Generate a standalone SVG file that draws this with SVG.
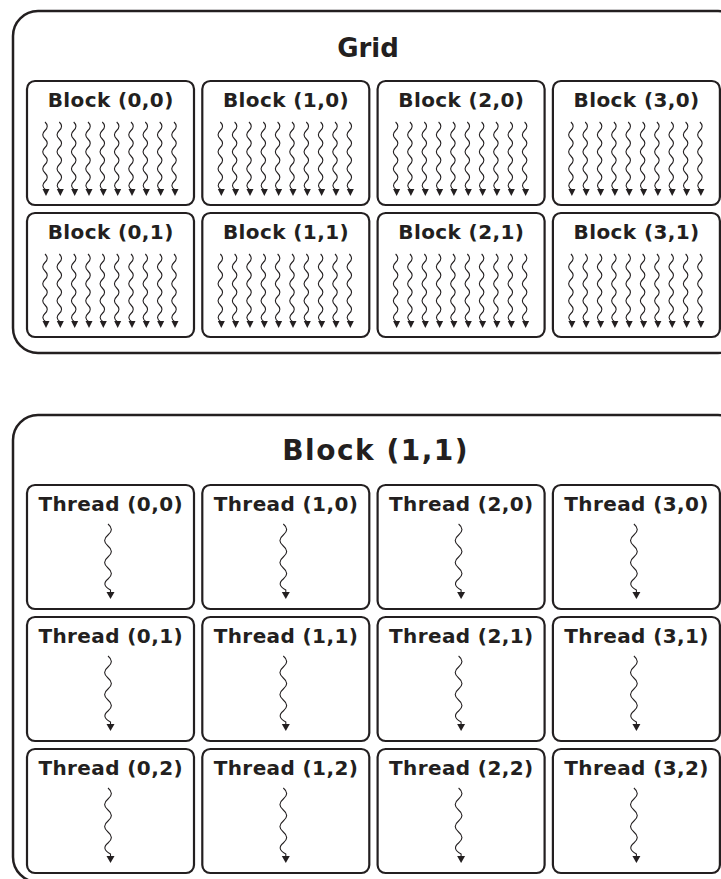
<svg xmlns="http://www.w3.org/2000/svg" xmlns:xlink="http://www.w3.org/1999/xlink" width="721" height="879" viewBox="0 0 721 879">
  <style>
    .outer { fill: #ffffff; stroke: #231f20; stroke-width: 2.5; }
    .box { fill: #ffffff; stroke: #231f20; stroke-width: 2.2; }
    .title { font-family: "DejaVu Sans", Verdana, sans-serif; font-weight: bold; fill: #231f20; text-anchor: middle; }
    .label { font-family: "DejaVu Sans", Verdana, sans-serif; font-weight: bold; font-size: 20px; letter-spacing: 0.4px; fill: #231f20; text-anchor: middle; }
    .wave { fill: none; stroke: #231f20; stroke-width: 1.1; }
    .head { fill: #231f20; }
  </style>
  <defs>
    <!-- small warp thread: wavy line with arrowhead, origin at box top / centre -->
    <g id="warpThread">
      <path class="wave" d="M-1 41 c3 2.8 3 5.7 0 8.5 s-3 5.7 0 8.5 s3 5.7 0 8.5 s-3 5.7 0 8.5 s3 5.7 0 8.5 s-3 5.7 0 8.5 s3 5.7 0 8.5 s-3 5.7 1 8.5 L0 110"/>
      <polygon class="head" points="-3.5,108 3.5,108 0,115"/>
    </g>
    <!-- single thread: larger wavy line with arrowhead -->
    <g id="singleThread">
      <path class="wave" d="M-2.5 39 c4.5 3.7 4.5 7.3 0 11 s-4.5 7.3 0 11 s4.5 7.3 0 11 s-4.5 7.3 0 11 s4.5 7.3 0 11 s-4.5 7.3 2.5 11 L0 108"/>
      <polygon class="head" points="-4,107 4,107 0,114"/>
    </g>
    <!-- one block: ten warp threads -->
    <g id="warp">
      <use xlink:href="#warpThread" x="-64.5"/>
      <use xlink:href="#warpThread" x="-50.2"/>
      <use xlink:href="#warpThread" x="-35.8"/>
      <use xlink:href="#warpThread" x="-21.5"/>
      <use xlink:href="#warpThread" x="-7.2"/>
      <use xlink:href="#warpThread" x="7.2"/>
      <use xlink:href="#warpThread" x="21.5"/>
      <use xlink:href="#warpThread" x="35.8"/>
      <use xlink:href="#warpThread" x="50.2"/>
      <use xlink:href="#warpThread" x="64.5"/>
    </g>
  </defs>

  <!-- Grid of blocks -->
  <g id="grid">
    <rect class="outer" x="13" y="11" width="730" height="342" rx="25"/>
    <text class="title" x="368" y="57" font-size="26">Grid</text>
  </g>

  <g id="block-0-0"><rect class="box" x="27" y="81" width="167" height="124" rx="8"/><text class="label" x="110.7" y="107">Block (0,0)</text><use xlink:href="#warp" x="110.5" y="81"/></g>
  <g id="block-1-0"><rect class="box" x="202.3" y="81" width="167" height="124" rx="8"/><text class="label" x="286" y="107">Block (1,0)</text><use xlink:href="#warp" x="285.8" y="81"/></g>
  <g id="block-2-0"><rect class="box" x="377.6" y="81" width="167" height="124" rx="8"/><text class="label" x="461.3" y="107">Block (2,0)</text><use xlink:href="#warp" x="461.1" y="81"/></g>
  <g id="block-3-0"><rect class="box" x="552.9" y="81" width="167" height="124" rx="8"/><text class="label" x="636.6" y="107">Block (3,0)</text><use xlink:href="#warp" x="636.4" y="81"/></g>

  <g id="block-0-1"><rect class="box" x="27" y="213" width="167" height="124" rx="8"/><text class="label" x="110.7" y="239">Block (0,1)</text><use xlink:href="#warp" x="110.5" y="213"/></g>
  <g id="block-1-1"><rect class="box" x="202.3" y="213" width="167" height="124" rx="8"/><text class="label" x="286" y="239">Block (1,1)</text><use xlink:href="#warp" x="285.8" y="213"/></g>
  <g id="block-2-1"><rect class="box" x="377.6" y="213" width="167" height="124" rx="8"/><text class="label" x="461.3" y="239">Block (2,1)</text><use xlink:href="#warp" x="461.1" y="213"/></g>
  <g id="block-3-1"><rect class="box" x="552.9" y="213" width="167" height="124" rx="8"/><text class="label" x="636.6" y="239">Block (3,1)</text><use xlink:href="#warp" x="636.4" y="213"/></g>

  <!-- Block (1,1) expanded into threads -->
  <g id="block-detail">
    <rect class="outer" x="13" y="415" width="730" height="467" rx="25"/>
    <text class="title" x="375.7" y="460" font-size="28" letter-spacing="1.5">Block (1,1)</text>
  </g>

  <g id="thread-0-0"><rect class="box" x="27" y="485" width="167" height="124" rx="8"/><text class="label" x="110.7" y="511">Thread (0,0)</text><use xlink:href="#singleThread" x="110.5" y="485"/></g>
  <g id="thread-1-0"><rect class="box" x="202.3" y="485" width="167" height="124" rx="8"/><text class="label" x="286" y="511">Thread (1,0)</text><use xlink:href="#singleThread" x="285.8" y="485"/></g>
  <g id="thread-2-0"><rect class="box" x="377.6" y="485" width="167" height="124" rx="8"/><text class="label" x="461.3" y="511">Thread (2,0)</text><use xlink:href="#singleThread" x="461.1" y="485"/></g>
  <g id="thread-3-0"><rect class="box" x="552.9" y="485" width="167" height="124" rx="8"/><text class="label" x="636.6" y="511">Thread (3,0)</text><use xlink:href="#singleThread" x="636.4" y="485"/></g>

  <g id="thread-0-1"><rect class="box" x="27" y="617" width="167" height="124" rx="8"/><text class="label" x="110.7" y="643">Thread (0,1)</text><use xlink:href="#singleThread" x="110.5" y="617"/></g>
  <g id="thread-1-1"><rect class="box" x="202.3" y="617" width="167" height="124" rx="8"/><text class="label" x="286" y="643">Thread (1,1)</text><use xlink:href="#singleThread" x="285.8" y="617"/></g>
  <g id="thread-2-1"><rect class="box" x="377.6" y="617" width="167" height="124" rx="8"/><text class="label" x="461.3" y="643">Thread (2,1)</text><use xlink:href="#singleThread" x="461.1" y="617"/></g>
  <g id="thread-3-1"><rect class="box" x="552.9" y="617" width="167" height="124" rx="8"/><text class="label" x="636.6" y="643">Thread (3,1)</text><use xlink:href="#singleThread" x="636.4" y="617"/></g>

  <g id="thread-0-2"><rect class="box" x="27" y="749" width="167" height="124" rx="8"/><text class="label" x="110.7" y="775">Thread (0,2)</text><use xlink:href="#singleThread" x="110.5" y="749"/></g>
  <g id="thread-1-2"><rect class="box" x="202.3" y="749" width="167" height="124" rx="8"/><text class="label" x="286" y="775">Thread (1,2)</text><use xlink:href="#singleThread" x="285.8" y="749"/></g>
  <g id="thread-2-2"><rect class="box" x="377.6" y="749" width="167" height="124" rx="8"/><text class="label" x="461.3" y="775">Thread (2,2)</text><use xlink:href="#singleThread" x="461.1" y="749"/></g>
  <g id="thread-3-2"><rect class="box" x="552.9" y="749" width="167" height="124" rx="8"/><text class="label" x="636.6" y="775">Thread (3,2)</text><use xlink:href="#singleThread" x="636.4" y="749"/></g>

  <!-- no connectors between nodes -->
  <g id="connectors"/>
</svg>
